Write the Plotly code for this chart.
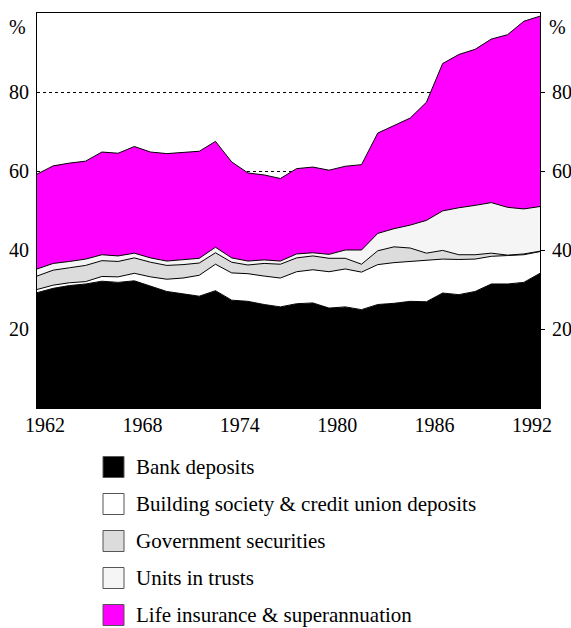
import plotly.graph_objects as go

# Financial years (plotted at mid-point between tick years)
years = [1961.5 + i for i in range(32)]

bank_deposits = [29.2, 30.3, 31.0, 31.4, 32.1, 31.8, 32.2, 30.8, 29.5, 28.9, 28.3, 29.7, 27.3, 27.0, 26.2, 25.6,
                 26.4, 26.6, 25.3, 25.6, 24.9, 26.2, 26.5, 27.0, 26.9, 29.1, 28.7, 29.5, 31.4, 31.4, 31.8, 34.1]
building_society = [0.8, 0.8, 0.7, 0.6, 1.2, 1.4, 1.9, 2.4, 3.1, 4.0, 5.3, 6.7, 6.9, 7.0, 7.2, 7.3,
                    8.1, 8.4, 9.2, 9.6, 9.5, 10.1, 10.3, 10.1, 10.5, 8.6, 8.9, 8.2, 7.0, 7.2, 7.0, 5.5]
government_securities = [3.4, 3.8, 3.8, 4.1, 4.0, 3.9, 3.9, 3.7, 3.5, 3.4, 3.1, 2.9, 2.7, 2.2, 3.2, 3.5,
                         3.5, 3.5, 3.4, 2.7, 2.0, 3.5, 4.0, 3.4, 1.8, 2.2, 1.2, 1.1, 0.8, 0.1, 0.2, 0.1]
units_in_trusts = [1.8, 1.7, 1.6, 1.6, 1.5, 1.4, 1.2, 1.1, 1.1, 1.2, 1.2, 1.4, 1.1, 1.0, 0.9, 0.8,
                   1.0, 0.8, 1.0, 2.1, 3.6, 4.4, 4.6, 5.8, 8.3, 10.0, 11.9, 12.5, 12.8, 12.1, 11.4, 11.3]
life_insurance = [24.0, 24.7, 24.9, 24.8, 26.0, 26.0, 27.0, 26.8, 27.2, 27.2, 27.1, 26.8, 24.3, 22.3, 21.5, 20.9,
                  21.6, 21.7, 21.3, 21.2, 21.6, 25.4, 26.2, 27.1, 29.9, 37.3, 38.8, 39.5, 41.4, 43.7, 47.5, 48.2]

series_names = ["Bank deposits", "Building society & credit union deposits", "Government securities",
                "Units in trusts", "Life insurance & superannuation"]
series_values = [bank_deposits, building_society, government_securities, units_in_trusts, life_insurance]
series_colors = ["#000000", "#ffffff", "#dcdcdc", "#f5f5f5", "#ff00ff"]

x_ticks = [1962, 1968, 1974, 1980, 1986, 1992]
y_ticks = [20, 40, 60, 80]

FONT = "Liberation Serif"
W, H = 571, 628
ML, MR, MT, MB = 37, 31, 13, 220
PW, PH = W - ML - MR, H - MT - MB


def px_x(px):
    return (px - ML) / PW


def px_y(py):
    return (H - MB - py) / PH


fig = go.Figure()
for name, vals, col in zip(series_names, series_values, series_colors):
    fig.add_trace(go.Scatter(
        x=years, y=vals, name=name, mode="lines", stackgroup="one",
        line=dict(color="black", width=1), fillcolor=col, showlegend=False,
        hoverinfo="x+y+name"))

# invisible trace to carry the right-hand axis
fig.add_trace(go.Scatter(x=[years[0]], y=[None], yaxis="y2", showlegend=False,
                         mode="lines", hoverinfo="skip"))

# legend drawn as swatches + text
shapes = []
annotations = []
leg_y = [467, 504, 541, 578, 615]
for name, col, cy in zip(series_names, series_colors, leg_y):
    shapes.append(dict(type="rect", xref="paper", yref="paper",
                       x0=px_x(103), x1=px_x(124), y0=px_y(cy + 10.5), y1=px_y(cy - 10.5),
                       fillcolor=col, line=dict(color="#555555", width=1)))
    annotations.append(dict(text=name, xref="paper", yref="paper", x=px_x(135), y=px_y(cy),
                            xanchor="left", yanchor="middle", showarrow=False, borderpad=0,
                            font=dict(family=FONT, size=21, color="black")))

annotations.append(dict(text="%", xref="paper", yref="paper", x=px_x(17), y=px_y(27),
                        xanchor="center", yanchor="middle", showarrow=False,
                        font=dict(family=FONT, size=20, color="black")))
annotations.append(dict(text="%", xref="paper", yref="paper", x=px_x(557), y=px_y(27),
                        xanchor="center", yanchor="middle", showarrow=False,
                        font=dict(family=FONT, size=20, color="black")))

fig.update_layout(
    width=W, height=H,
    margin=dict(l=ML, r=MR, t=MT, b=MB, autoexpand=False),
    paper_bgcolor="white", plot_bgcolor="white",
    font=dict(family=FONT, size=20, color="black"),
    showlegend=False,
    xaxis=dict(range=[1961.5, 1992.5], tickvals=x_ticks, ticktext=[str(v) for v in x_ticks],
               showgrid=False, zeroline=False, showline=True, linecolor="black", linewidth=1,
               mirror=True, ticks="", ticklabelstandoff=-1, automargin=False),
    yaxis=dict(range=[0, 100], tickvals=y_ticks, showgrid=True, gridcolor="black",
               griddash="dot", gridwidth=1, zeroline=False, showline=True, linecolor="black",
               linewidth=1, mirror=True, ticks="", ticklabelstandoff=3, automargin=False),
    yaxis2=dict(range=[0, 100], tickvals=y_ticks, overlaying="y", side="right",
                showgrid=False, zeroline=False, showline=False, ticks="outside", ticklen=4,
                tickcolor="black", ticklabelstandoff=3, automargin=False),
    shapes=shapes,
    annotations=annotations,
)

fig.write_html("out.html", config={"displayModeBar": False},
               post_script="document.body.style.margin='0';document.body.style.overflow='hidden';")
